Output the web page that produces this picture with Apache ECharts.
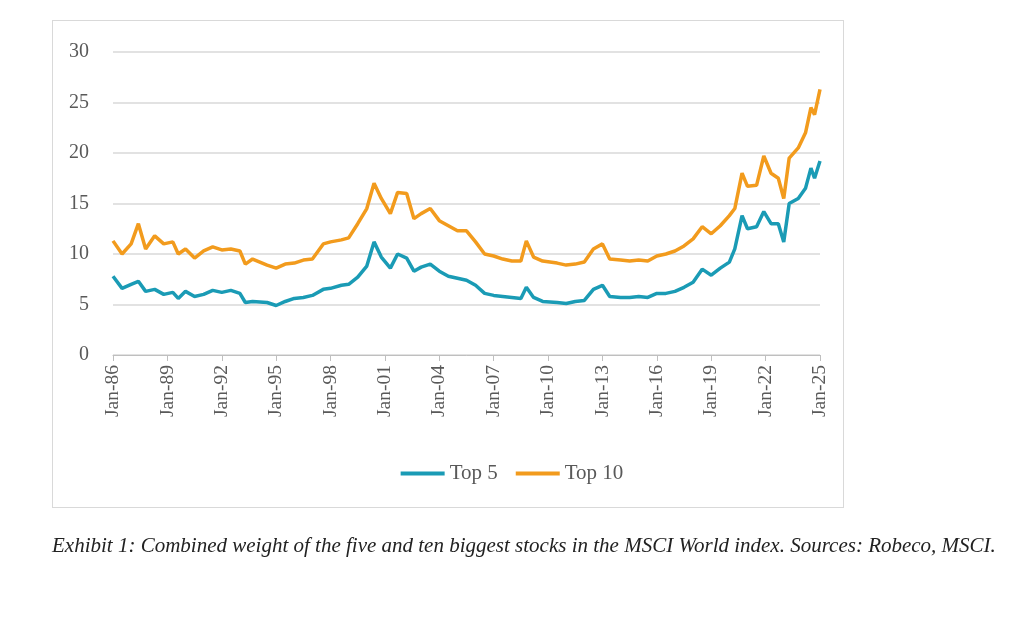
<!DOCTYPE html>
<html><head><meta charset="utf-8">
<script src="https://cdn.jsdelivr.net/npm/echarts@6/dist/echarts.min.js"></script>
<style>
body{margin:0;background:#fff;width:1024px;height:619px;overflow:hidden;position:relative}
#box{position:absolute;left:52px;top:20px;width:792px;height:488px;border:1px solid #d9d9d9;box-sizing:border-box}
#c{position:absolute;left:0;top:0;width:1024px;height:619px}
#cap{position:absolute;left:52px;top:530px;width:950px;font:italic 21px "Liberation Serif","DejaVu Serif",serif;color:#222;line-height:31px}
</style></head><body>
<div id="box"></div>
<div id="c"></div>
<div id="cap">Exhibit 1: Combined weight of the five and ten biggest stocks in the MSCI World index. Sources: Robeco, MSCI.</div>
<script>
const dates=[1986.0,1986.5,1987.0,1987.4,1987.8,1988.3,1988.8,1989.3,1989.6,1990.0,1990.5,1991.0,1991.5,1992.0,1992.5,1993.0,1993.3,1993.7,1994.5,1995.0,1995.5,1996.0,1996.5,1997.0,1997.6,1998.0,1998.6,1999.0,1999.5,2000.0,2000.4,2000.8,2001.3,2001.7,2002.2,2002.6,2003.0,2003.5,2004.0,2004.5,2005.0,2005.5,2006.0,2006.5,2007.0,2007.5,2008.0,2008.5,2008.8,2009.2,2009.7,2010.5,2011.0,2011.5,2012.0,2012.5,2013.0,2013.4,2014.0,2014.5,2015.0,2015.5,2016.0,2016.5,2017.0,2017.5,2018.0,2018.5,2019.0,2019.5,2020.0,2020.3,2020.7,2021.0,2021.5,2021.9,2022.3,2022.7,2023.0,2023.3,2023.8,2024.2,2024.5,2024.7,2025.0];
const top10=[11.3,10.0,11.0,13.0,10.5,11.8,11.0,11.2,10.0,10.5,9.6,10.3,10.7,10.4,10.5,10.3,9.0,9.5,8.9,8.6,9.0,9.1,9.4,9.5,11.0,11.2,11.4,11.6,13.0,14.5,17.0,15.5,14.0,16.1,16.0,13.5,14.0,14.5,13.3,12.8,12.3,12.3,11.2,10.0,9.8,9.5,9.3,9.3,11.3,9.7,9.3,9.1,8.9,9.0,9.2,10.5,11.0,9.5,9.4,9.3,9.4,9.3,9.8,10.0,10.3,10.8,11.5,12.7,12.0,12.8,13.8,14.5,18.0,16.7,16.8,19.7,18.0,17.5,15.5,19.5,20.5,22.0,24.5,23.8,26.3];
const top5=[7.8,6.6,7.0,7.3,6.3,6.5,6.0,6.2,5.6,6.3,5.8,6.0,6.4,6.2,6.4,6.1,5.2,5.3,5.2,4.9,5.3,5.6,5.7,5.9,6.5,6.6,6.9,7.0,7.7,8.8,11.2,9.7,8.6,10.0,9.6,8.3,8.7,9.0,8.3,7.8,7.6,7.4,6.9,6.1,5.9,5.8,5.7,5.6,6.7,5.7,5.3,5.2,5.1,5.3,5.4,6.5,6.9,5.8,5.7,5.7,5.8,5.7,6.1,6.1,6.3,6.7,7.2,8.5,7.9,8.6,9.2,10.5,13.8,12.5,12.7,14.2,13.0,13.0,11.2,15.0,15.5,16.5,18.5,17.5,19.2];
const F='"Liberation Serif","DejaVu Serif",serif';
const ch=echarts.init(document.getElementById('c'));
ch.setOption({
 animation:false,
 grid:{left:113,right:204,top:52,bottom:264},
 legend:{bottom:130,left:'center',itemWidth:44,itemGap:18,textStyle:{fontFamily:F,fontSize:21,color:'#595959'},icon:'rect',itemHeight:4,data:['Top 5','Top 10']},
 xAxis:{type:'value',min:1986,max:2025,interval:3,
  axisLine:{lineStyle:{color:'#bfbfbf'}},axisTick:{show:true,length:6,lineStyle:{color:'#bfbfbf'}},splitLine:{show:false},
  axisLabel:{rotate:90,fontFamily:F,fontSize:19.5,color:'#595959',margin:10,formatter:v=>'Jan-'+String(v%100).padStart(2,'0')}},
 yAxis:{type:'value',min:0,max:30,interval:5,axisLine:{show:false},axisTick:{show:false},
  splitLine:{lineStyle:{color:'#d9d9d9',width:1.5}},axisLabel:{fontFamily:F,fontSize:20,color:'#595959',margin:24}},
 series:[
  {name:'Top 5',type:'line',showSymbol:false,data:dates.map((d,i)=>[d,top5[i]]),lineStyle:{width:3.5,color:'#1a9bb5'},itemStyle:{color:'#1a9bb5'}},
  {name:'Top 10',type:'line',showSymbol:false,data:dates.map((d,i)=>[d,top10[i]]),lineStyle:{width:3.5,color:'#f29b1d'},itemStyle:{color:'#f29b1d'}}
 ]
});
</script></body></html>
